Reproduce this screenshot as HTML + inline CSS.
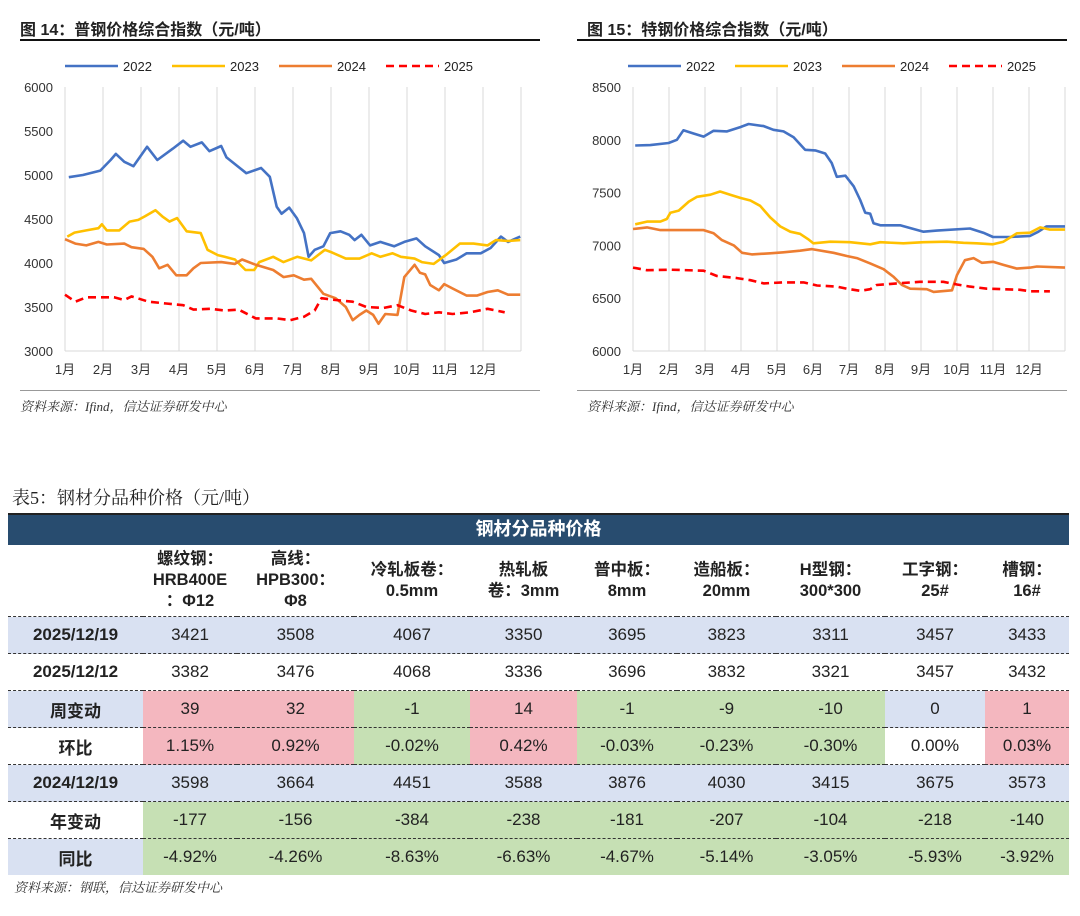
<!DOCTYPE html>
<html><head><meta charset="utf-8"><style>
body{margin:0;background:#fff;width:1080px;height:916px;overflow:hidden;position:relative;font-family:"Liberation Sans","Noto Sans CJK SC",sans-serif;}
.abs{position:absolute;}
.ttl{font-weight:bold;font-size:16px;color:#222;}
.src{font-size:13px;font-style:italic;color:#333;font-family:"Liberation Serif","Noto Serif CJK SC",serif;}
table{border-collapse:collapse;position:absolute;left:8px;top:545px;width:1061px;table-layout:fixed;font-family:"Liberation Sans","Noto Sans CJK SC",sans-serif;}
td{text-align:center;font-size:17px;color:#222;padding:0;height:36px;border-top:1.5px dashed #333;}
tr.hd td{height:71px;font-weight:bold;font-size:16.5px;line-height:21px;border-top:none;}
td.lb{font-weight:bold;}
.b{background:#d9e1f2}.p{background:#f4b7bf}.g{background:#c6e0b4}
</style></head><body>
<div class="abs ttl" style="left:20px;top:16px">图 14：普钢价格综合指数（元/吨）</div>
<div class="abs" style="left:20px;top:39px;width:520px;height:2px;background:#111"></div>
<div class="abs ttl" style="left:587px;top:16px">图 15：特钢价格综合指数（元/吨）</div>
<div class="abs" style="left:577px;top:39px;width:490px;height:2px;background:#111"></div>
<div class="abs" style="left:20px;top:390px;width:520px;height:1px;background:#999"></div>
<div class="abs" style="left:577px;top:390px;width:490px;height:1px;background:#999"></div>
<div class="abs src" style="left:20px;top:396px">资料来源：Ifind，信达证券研发中心</div>
<div class="abs src" style="left:587px;top:396px">资料来源：Ifind，信达证券研发中心</div>
<svg id="svg" class="abs" style="left:0;top:0" width="1080" height="420"></svg>

<div class="abs" style="left:12px;top:484px;font-size:18px;color:#222;font-family:'Liberation Serif','Noto Serif CJK SC',serif">表5：钢材分品种价格（元/吨）</div>
<div class="abs" style="left:8px;top:513px;width:1061px;height:32px;background:#284c6f;border-top:2px solid #222;box-sizing:border-box;color:#fff;font-weight:bold;font-size:18px;text-align:center;line-height:28px">钢材分品种价格</div>
<table>
<colgroup><col style="width:135px"><col style="width:94px"><col style="width:117px"><col style="width:116px"><col style="width:107px"><col style="width:100px"><col style="width:99px"><col style="width:109px"><col style="width:100px"><col style="width:84px"></colgroup>
<tr class="hd"><td></td><td>螺纹钢：<br>HRB400E<br>：Φ12</td><td>高线：<br>HPB300：<br>Φ8</td><td>冷轧板卷：<br>0.5mm</td><td>热轧板<br>卷：3mm</td><td>普中板：<br>8mm</td><td>造船板：<br>20mm</td><td>H型钢：<br>300*300</td><td>工字钢：<br>25#</td><td>槽钢：<br>16#</td></tr>
<tr class="b"><td class="lb">2025/12/19</td><td>3421</td><td>3508</td><td>4067</td><td>3350</td><td>3695</td><td>3823</td><td>3311</td><td>3457</td><td>3433</td></tr>
<tr><td class="lb">2025/12/12</td><td>3382</td><td>3476</td><td>4068</td><td>3336</td><td>3696</td><td>3832</td><td>3321</td><td>3457</td><td>3432</td></tr>
<tr><td class="lb b">周变动</td><td class="p">39</td><td class="p">32</td><td class="g">-1</td><td class="p">14</td><td class="g">-1</td><td class="g">-9</td><td class="g">-10</td><td class="b">0</td><td class="p">1</td></tr>
<tr><td class="lb">环比</td><td class="p">1.15%</td><td class="p">0.92%</td><td class="g">-0.02%</td><td class="p">0.42%</td><td class="g">-0.03%</td><td class="g">-0.23%</td><td class="g">-0.30%</td><td>0.00%</td><td class="p">0.03%</td></tr>
<tr class="b"><td class="lb">2024/12/19</td><td>3598</td><td>3664</td><td>4451</td><td>3588</td><td>3876</td><td>4030</td><td>3415</td><td>3675</td><td>3573</td></tr>
<tr><td class="lb">年变动</td><td class="g">-177</td><td class="g">-156</td><td class="g">-384</td><td class="g">-238</td><td class="g">-181</td><td class="g">-207</td><td class="g">-104</td><td class="g">-218</td><td class="g">-140</td></tr>
<tr><td class="lb b">同比</td><td class="g">-4.92%</td><td class="g">-4.26%</td><td class="g">-8.63%</td><td class="g">-6.63%</td><td class="g">-4.67%</td><td class="g">-5.14%</td><td class="g">-3.05%</td><td class="g">-5.93%</td><td class="g">-3.92%</td></tr>
</table>
<div class="abs src" style="left:14px;top:877px">资料来源：钢联，信达证券研发中心</div>

<script>
const monthLabels=["1月","2月","3月","4月","5月","6月","7月","8月","9月","10月","11月","12月"];
const seriesNames=["2022","2023","2024","2025"];
const c1Ticks=[3000,3500,4000,4500,5000,5500,6000];
const c2Ticks=[6000,6500,7000,7500,8000,8500];
const c1_2022=[[0.1,4975],[0.47,5000],[0.93,5050],[1.2,5170],[1.34,5240],[1.56,5150],[1.8,5100],[2.16,5320],[2.43,5170],[2.84,5300],[3.11,5390],[3.3,5320],[3.6,5370],[3.8,5270],[4.11,5330],[4.25,5200],[4.57,5090],[4.77,5020],[5.16,5080],[5.39,4980],[5.57,4640],[5.7,4560],[5.9,4630],[6.1,4510],[6.29,4340],[6.41,4070],[6.57,4150],[6.8,4190],[6.98,4340],[7.25,4360],[7.48,4320],[7.62,4260],[7.8,4320],[8.03,4200],[8.3,4240],[8.66,4190],[8.93,4240],[9.25,4280],[9.48,4190],[9.84,4090],[9.98,4000],[10.3,4040],[10.57,4110],[10.94,4110],[11.2,4170],[11.47,4300],[11.66,4240],[11.98,4300]];
const c1_2023=[[0.06,4300],[0.25,4345],[0.56,4370],[0.88,4395],[0.97,4440],[1.1,4370],[1.43,4370],[1.7,4470],[1.93,4490],[2.1,4530],[2.38,4600],[2.56,4530],[2.75,4470],[2.95,4510],[3.2,4360],[3.57,4340],[3.75,4150],[4.02,4090],[4.2,4070],[4.47,4040],[4.75,3920],[4.98,3920],[5.11,4010],[5.48,4070],[5.75,4010],[6.11,4070],[6.48,4030],[6.84,4150],[7.02,4120],[7.39,4050],[7.75,4050],[8.07,4110],[8.3,4070],[8.62,4110],[8.84,4070],[9.2,4050],[9.39,4010],[9.7,3990],[10.02,4090],[10.39,4220],[10.75,4220],[11.12,4200],[11.34,4260],[11.66,4250],[11.98,4260]];
const c1_2024=[[0,4270],[0.27,4220],[0.56,4200],[0.88,4240],[1.1,4210],[1.56,4220],[1.75,4180],[2.07,4160],[2.3,4070],[2.48,3940],[2.7,3980],[2.93,3860],[3.2,3860],[3.38,3940],[3.57,4000],[4.11,4010],[4.47,3990],[4.66,4040],[5.02,3980],[5.48,3920],[5.75,3840],[6.02,3860],[6.29,3810],[6.48,3820],[6.8,3650],[7.12,3600],[7.39,3500],[7.57,3350],[7.75,3410],[7.93,3460],[8.11,3410],[8.25,3310],[8.43,3420],[8.75,3410],[8.93,3840],[9.2,3980],[9.34,3890],[9.48,3870],[9.61,3750],[9.84,3690],[9.98,3760],[10.2,3710],[10.57,3630],[10.84,3630],[11.12,3670],[11.39,3690],[11.66,3640],[11.98,3640]];
const c1_2025=[[0,3640],[0.27,3560],[0.56,3610],[1.29,3610],[1.56,3580],[1.75,3620],[2.2,3560],[2.66,3540],[3.11,3520],[3.38,3470],[3.84,3480],[4.2,3460],[4.57,3470],[5.02,3370],[5.57,3370],[5.93,3350],[6.29,3390],[6.57,3460],[6.75,3600],[7.12,3580],[7.57,3560],[7.93,3500],[8.39,3490],[8.75,3520],[9.11,3460],[9.48,3420],[9.84,3440],[10.2,3420],[10.66,3440],[11.12,3480],[11.57,3440]];
const c2_2022=[[0.06,7946],[0.48,7950],[0.99,7970],[1.22,8000],[1.4,8090],[1.68,8060],[1.96,8030],[2.24,8085],[2.61,8080],[2.98,8120],[3.21,8150],[3.63,8130],[3.9,8095],[4.18,8080],[4.46,8025],[4.78,7905],[5.06,7900],[5.34,7870],[5.52,7780],[5.66,7650],[5.9,7660],[6.13,7560],[6.31,7430],[6.45,7310],[6.59,7300],[6.68,7210],[6.87,7190],[7.42,7190],[8.07,7130],[8.44,7140],[9.36,7160],[9.73,7120],[10.0,7080],[10.47,7080],[11.03,7090],[11.26,7130],[11.49,7180],[12,7180]];
const c2_2023=[[0.06,7200],[0.39,7225],[0.76,7225],[0.94,7250],[1.04,7310],[1.27,7330],[1.55,7415],[1.78,7460],[2.15,7480],[2.42,7510],[2.7,7480],[2.98,7450],[3.26,7425],[3.53,7375],[3.81,7265],[4.09,7180],[4.37,7130],[4.64,7110],[4.88,7055],[5.01,7020],[5.48,7035],[6.03,7030],[6.59,7010],[6.87,7030],[7.51,7020],[8.07,7030],[8.72,7035],[9.18,7025],[9.55,7020],[10.0,7010],[10.29,7035],[10.66,7115],[11.03,7120],[11.31,7170],[11.58,7150],[12,7150]];
const c2_2024=[[0,7155],[0.39,7170],[0.76,7145],[1.31,7145],[1.96,7145],[2.24,7115],[2.47,7050],[2.8,7000],[3.03,6930],[3.3,6915],[3.81,6925],[4.18,6935],[4.64,6950],[4.97,6965],[5.57,6930],[5.94,6900],[6.22,6880],[6.59,6830],[6.96,6775],[7.23,6705],[7.47,6625],[7.7,6590],[8.16,6585],[8.35,6560],[8.86,6575],[9.0,6720],[9.22,6860],[9.46,6880],[9.69,6835],[10.0,6845],[10.29,6815],[10.66,6780],[11.03,6790],[11.22,6800],[12,6790]];
const c2_2025=[[0,6790],[0.39,6765],[1.04,6770],[1.96,6760],[2.33,6710],[2.89,6690],[3.26,6670],[3.63,6640],[4.18,6650],[4.74,6650],[5.11,6620],[5.66,6610],[5.94,6590],[6.31,6570],[6.59,6585],[6.77,6625],[7.33,6640],[7.97,6655],[8.62,6655],[9.0,6630],[9.36,6610],[9.83,6590],[10.29,6585],[10.75,6580],[11.03,6565],[11.58,6565]];

const NS="http://www.w3.org/2000/svg";
const svg=document.getElementById('svg');
const colors=["#4472c4","#ffc000","#ed7d31","#ff0000"];
function mk(tag,attrs){const e=document.createElementNS(NS,tag);for(const k in attrs)e.setAttribute(k,attrs[k]);svg.appendChild(e);return e;}
function chart(id,x0,x1,yTop,yBot,vMin,vMax,ticks,series,legX){
  const xs=m=>x0+(x1-x0)*m/12;
  const ys=v=>yBot-(yBot-yTop)*(v-vMin)/(vMax-vMin);
  for(let i=0;i<=12;i++){
    const g=mk('line',{x1:xs(i),x2:xs(i),y1:yTop,y2:yBot,stroke:'#d9d9d9','stroke-width':1});
    
    
  }
  const ax=mk('line',{x1:x0,x2:x1,y1:yBot,y2:yBot,stroke:'#d9d9d9','stroke-width':1});
  
  
  ticks.forEach(t=>{
    const tx=mk('text',{x:x0-12,y:ys(t)+5,'text-anchor':'end','font-size':13,fill:'#333','font-family':'Liberation Sans, sans-serif'});
    tx.textContent=t;
    
    
  });
  monthLabels.forEach((l,i)=>{
    const tx=mk('text',{x:xs(i)+(i>=9?0:0),y:yBot+23,'text-anchor':'middle','font-size':13,fill:'#333','font-family':'Liberation Sans, Noto Sans CJK SC, sans-serif'});
    tx.textContent=l;
    
    
  });
  series.forEach((s,k)=>{
    const d=s.map((p,i)=>(i?'L':'M')+xs(p[0]).toFixed(1)+','+ys(p[1]).toFixed(1)).join('');
    const attrs={d:d,fill:'none',stroke:colors[k],'stroke-width':2.6,'stroke-linejoin':'round'};
    if(k===3)attrs['stroke-dasharray']='8,5';
    const pth=mk('path',attrs);
    
    
    const lx=legX+k*107;
    const la={x1:lx,x2:lx+53,y1:66,y2:66,stroke:colors[k],'stroke-width':2.6};
    if(k===3)la['stroke-dasharray']='8,5';
    const ll=mk('line',la);
    
    
    const lt=mk('text',{x:lx+58,y:71,'font-size':13,fill:'#222','font-family':'Liberation Sans, sans-serif'});
    lt.textContent=seriesNames[k];
    
    
  });
}
chart('chart1',65,521,87,351,3000,6000,c1Ticks,[c1_2022,c1_2023,c1_2024,c1_2025],65);
chart('chart2',633,1065,87,351,6000,8500,c2Ticks,[c2_2022,c2_2023,c2_2024,c2_2025],628);
</script>
</body></html>
